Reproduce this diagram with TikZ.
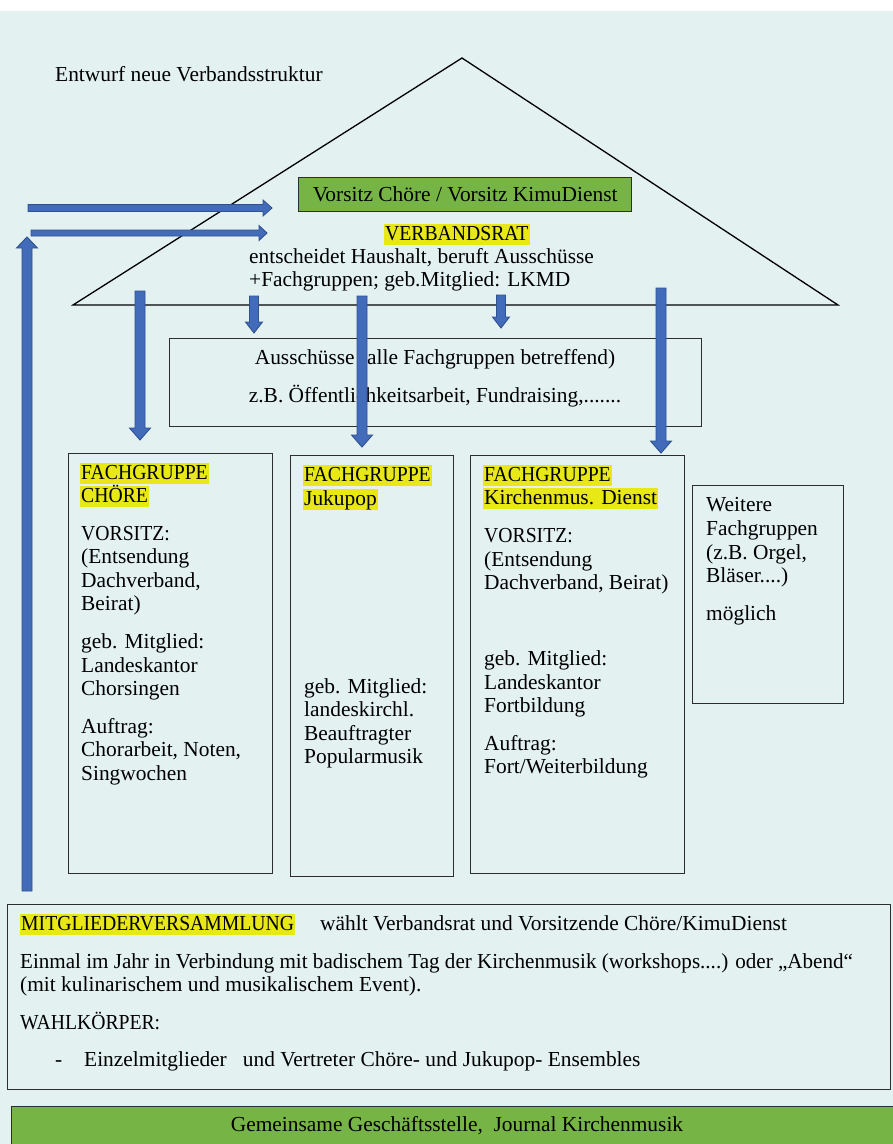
\documentclass[tikz,border=0pt]{standalone}
\usepackage{fontspec}
\setmainfont{Liberation Serif}
\usetikzlibrary{calc}
\definecolor{bgc}{RGB}{227,241,241}
\definecolor{arrowblue}{RGB}{66,108,186}
\definecolor{arrowedge}{RGB}{47,82,143}
\definecolor{boxgreen}{RGB}{119,180,70}
\definecolor{hly}{RGB}{232,232,22}
\definecolor{edge}{RGB}{45,45,45}
\tikzset{
  txt/.style={anchor=base west, inner sep=0pt},
  hl/.style={anchor=base west, fill=hly, inner xsep=1pt, inner ysep=0pt, text height=16pt, text depth=4.5pt},
  frame/.style={draw=edge, line width=1.3pt, anchor=north west, inner sep=0pt},
  blockarr/.style={fill=arrowblue, draw=arrowedge, line width=0.9pt, line join=miter}
}
\newcommand\capsw[1]{\scalebox{0.92}[1]{#1}}
\newcommand\tl[4]{\node[txt] (#1) at (#2,#3) {#4};}
% block arrow: from, to, shaft half width, head half width, head length
\newcommand\blockarrow[5]{%
  \filldraw[blockarr]
    ($(#1)!#3!90:(#2)$)
    -- ($($(#2)!#5!(#1)$)!#3!90:(#2)$)
    -- ($($(#2)!#5!(#1)$)!#4!90:(#2)$)
    -- (#2)
    -- ($($(#2)!#5!(#1)$)!#4!-90:(#2)$)
    -- ($($(#2)!#5!(#1)$)!#3!-90:(#2)$)
    -- ($(#1)!#3!-90:(#2)$) -- cycle;}
\begin{document}
\begin{tikzpicture}[x=1pt,y=-1pt,font=\fontsize{21.4}{23.5}\selectfont]
\useasboundingbox (0,0) rectangle (893,1144);
\fill[white] (0,0) rectangle (893,11);
\fill[bgc] (0,11) rectangle (893,1144);

% title
\tl{title}{55}{81}{Entwurf neue Verbandsstruktur}

% roof
\coordinate (apex) at (462,58);
\coordinate (bl) at (73,305);
\coordinate (br) at (838,305);
\draw[black, line width=1.3pt, line join=miter] (bl) -- (apex) -- (br) -- cycle;

% green chair box
\node[frame, fill=boxgreen, minimum width=333pt, minimum height=34pt] (chair) at (298,177) {};
\node[inner sep=0pt] (chairtxt) at (chair.center) {Vorsitz Chöre / Vorsitz KimuDienst};

% Verbandsrat
\node[hl] (vr) at (384,240) {\capsw{VERBANDSRAT}};
\tl{vr1}{249}{263}{entscheidet Haushalt, beruft Ausschüsse}
\tl{vr2}{249}{286}{+Fachgruppen; geb.Mitglied: LKMD}

% Ausschuesse
\node[frame, minimum width=532pt, minimum height=88pt] (aus) at (169,338) {};
\node[anchor=base, inner sep=0pt] (aus1) at (435,364) {Ausschüsse (alle Fachgruppen betreffend)};
\node[anchor=base, inner sep=0pt] (aus2) at (435,402) {z.B. Öffentlichkeitsarbeit, Fundraising,.......};

% Fachgruppe boxes
\node[frame, minimum width=204pt, minimum height=420pt] (fg1) at (68,453) {};
\node[frame, minimum width=163pt, minimum height=421pt] (fg2) at (290,455) {};
\node[frame, minimum width=214pt, minimum height=418pt] (fg3) at (470,455) {};
\node[draw=edge, line width=1pt, anchor=north west, inner sep=0pt, minimum width=151pt, minimum height=218pt] (fg4) at (692,485) {};

% box 1
\node[hl] (c1) at (80,479) {\capsw{FACHGRUPPE}};
\node[hl] (c2) at (80,502) {\capsw{CHÖRE}};
\tl{c3}{81}{540}{\capsw{VORSITZ:}}
\tl{c4}{81}{563}{(Entsendung}
\tl{c5}{81}{587}{Dachverband,}
\tl{c6}{81}{610}{Beirat)}
\tl{c7}{81}{648}{geb. Mitglied:}
\tl{c8}{81}{672}{Landeskantor}
\tl{c9}{81}{695}{Chorsingen}
\tl{c10}{81}{733}{Auftrag:}
\tl{c11}{81}{756}{Chorarbeit, Noten,}
\tl{c12}{81}{780}{Singwochen}

% box 2
\node[hl] (j1) at (303,481) {\capsw{FACHGRUPPE}};
\node[hl] (j2) at (303,505) {Jukupop};
\tl{j3}{304}{693}{geb. Mitglied:}
\tl{j4}{304}{716}{landeskirchl.}
\tl{j5}{304}{740}{Beauftragter}
\tl{j6}{304}{763}{Popularmusik}

% box 3
\node[hl] (k1) at (483,481) {\capsw{FACHGRUPPE}};
\node[hl] (k2) at (483,504) {Kirchenmus. Dienst};
\tl{k3}{484}{542}{\capsw{VORSITZ:}}
\tl{k4}{484}{566}{(Entsendung}
\tl{k5}{484}{589}{Dachverband, Beirat)}
\tl{k6}{484}{665}{geb. Mitglied:}
\tl{k7}{484}{689}{Landeskantor}
\tl{k8}{484}{712}{Fortbildung}
\tl{k9}{484}{750}{Auftrag:}
\tl{k10}{484}{773}{Fort/Weiterbildung}

% box 4
\tl{w1}{706}{511}{Weitere}
\tl{w2}{706}{535}{Fachgruppen}
\tl{w3}{706}{559}{(z.B. Orgel,}
\tl{w4}{706}{582}{Bläser....)}
\tl{w5}{706}{620}{möglich}

% Mitgliederversammlung
\node[frame, minimum width=883pt, minimum height=185pt] (mv) at (7,904) {};
\node[hl] (m1) at (20,930) {\capsw{MITGLIEDERVERSAMMLUNG}};
\tl{m2}{320}{930}{wählt Verbandsrat und Vorsitzende Chöre/KimuDienst}
\tl{m3}{20}{968}{\scalebox{0.985}[1]{Einmal im Jahr in Verbindung mit badischem Tag der Kirchenmusik (workshops....) oder „Abend“}}
\tl{m4}{20}{991}{(mit kulinarischem und musikalischem Event).}
\tl{m5}{20}{1029}{\capsw{WAHLKÖRPER:}}
\tl{m6}{55}{1066}{-}
\tl{m7}{84}{1066}{Einzelmitglieder\ \ \ und Vertreter Chöre- und Jukupop- Ensembles}

% Geschaeftsstelle
\node[draw=edge, line width=1.3pt, fill=boxgreen, anchor=north west, inner sep=0pt, minimum width=890pt, minimum height=45pt] (gs) at (11,1106) {};
\node[anchor=base, inner sep=0pt] (gstxt) at (457,1131) {Gemeinsame Geschäftsstelle,\ \ Journal Kirchenmusik};

% arrows
\coordinate (b0) at (27,891); \coordinate (b1) at (27,237);
\blockarrow{b0}{b1}{5pt}{10.5pt}{11pt}
\coordinate (h1a) at (28,208); \coordinate (h1b) at (272,208);
\coordinate (h2a) at (31,233); \coordinate (h2b) at (267,233);
\blockarrow{h1a}{h1b}{3.5pt}{8pt}{9pt}
\blockarrow{h2a}{h2b}{3pt}{7.5pt}{8pt}
\coordinate (v1a) at (140,291); \coordinate (v1b) at (140,440);
\coordinate (v2a) at (254,296); \coordinate (v2b) at (254,333);
\coordinate (v3a) at (362,296); \coordinate (v3b) at (362,447);
\coordinate (v4a) at (501,295); \coordinate (v4b) at (501,328);
\coordinate (v5a) at (661,288); \coordinate (v5b) at (661,453);
\blockarrow{v1a}{v1b}{5pt}{10.5pt}{12pt}
\blockarrow{v2a}{v2b}{4.5pt}{8.5pt}{11pt}
\blockarrow{v3a}{v3b}{5pt}{10.5pt}{12pt}
\blockarrow{v4a}{v4b}{4.5pt}{8.5pt}{11pt}
\blockarrow{v5a}{v5b}{5pt}{10.5pt}{12pt}
\end{tikzpicture}
\end{document}
